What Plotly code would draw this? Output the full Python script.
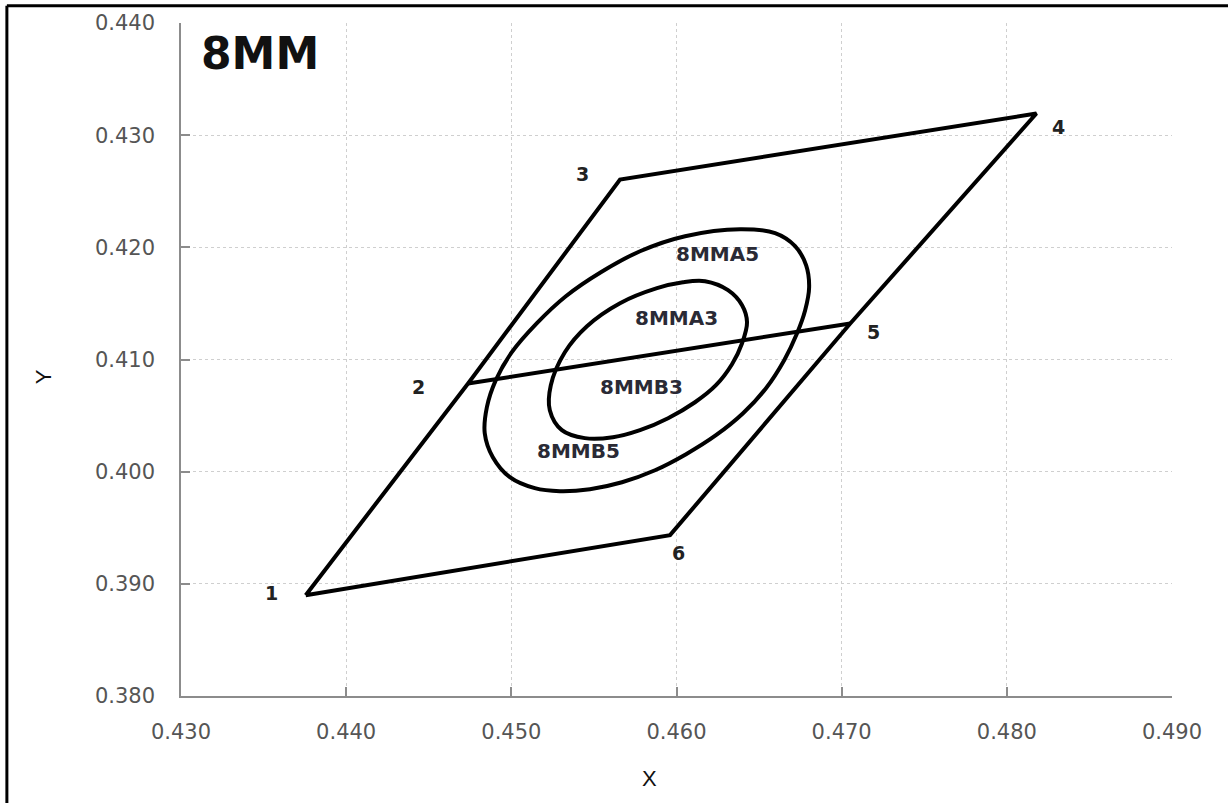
import plotly.graph_objects as go

# Corner points of the hexagonal outline (labelled 1..6)
pt_labels = ["1", "2", "3", "4", "5", "6"]
pt_x = [0.43755, 0.44738, 0.45658, 0.48179, 0.47052, 0.45961]
pt_y = [0.38899, 0.40786, 0.42604, 0.43193, 0.41321, 0.39434]

# Outer contour (8MMA5 / 8MMB5)
outer_x = [0.46385, 0.46597, 0.46718, 0.46785, 0.46803, 0.46779, 0.46730, 0.46652,
           0.46542, 0.46403, 0.46239, 0.46058, 0.45870, 0.45670, 0.45476, 0.45294,
           0.45142, 0.44991, 0.44888, 0.44839, 0.44852, 0.44906, 0.45003, 0.45155,
           0.45330, 0.45542, 0.45779, 0.46052, 0.46385]
outer_y = [0.42161, 0.42126, 0.42010, 0.41840, 0.41644, 0.41439, 0.41234, 0.40994,
           0.40744, 0.40521, 0.40325, 0.40156, 0.40013, 0.39906, 0.39844, 0.39826,
           0.39853, 0.39951, 0.40129, 0.40343, 0.40575, 0.40816, 0.41065, 0.41324,
           0.41564, 0.41778, 0.41965, 0.42099, 0.42161]

# Inner contour (8MMA3 / 8MMB3)
inner_x = [0.46173, 0.46312, 0.46397, 0.46427, 0.46397, 0.46336, 0.46239, 0.46112,
           0.45949, 0.45779, 0.45615, 0.45445, 0.45306, 0.45233, 0.45239, 0.45324,
           0.45458, 0.45658, 0.45882, 0.46039, 0.46173]
inner_y = [0.41698, 0.41618, 0.41484, 0.41332, 0.41145, 0.40958, 0.40771, 0.40619,
           0.40477, 0.40370, 0.40307, 0.40299, 0.40370, 0.40548, 0.40771, 0.41065,
           0.41297, 0.41502, 0.41636, 0.41689, 0.41698]

# Region labels
region_labels = ["8MMA5", "8MMA3", "8MMB3", "8MMB5"]
region_x = [0.46249, 0.46000, 0.45788, 0.45409]
region_y = [0.41939, 0.41373, 0.40758, 0.40187]

x_ticks = [0.430, 0.440, 0.450, 0.460, 0.470, 0.480, 0.490]
y_ticks = [0.380, 0.390, 0.400, 0.410, 0.420, 0.430, 0.440]

LW = 4
fig = go.Figure()

# Outline 1-2-3-4-5-6-1
order = [0, 1, 2, 3, 4, 5, 0]
fig.add_trace(go.Scatter(x=[pt_x[i] for i in order], y=[pt_y[i] for i in order],
                         mode="lines", line=dict(color="black", width=LW),
                         hoverinfo="skip", showlegend=False))
# Middle line 2-5
fig.add_trace(go.Scatter(x=[pt_x[1], pt_x[4]], y=[pt_y[1], pt_y[4]],
                         mode="lines", line=dict(color="black", width=LW),
                         hoverinfo="skip", showlegend=False))
# Contours
for xs, ys in [(outer_x, outer_y), (inner_x, inner_y)]:
    fig.add_trace(go.Scatter(x=xs, y=ys, mode="lines",
                             line=dict(color="black", width=LW, shape="spline", smoothing=1.0),
                             hoverinfo="skip", showlegend=False))

annots = []
# point number labels, offsets in pixels
offsets = [(-34, -2), (-50, 3), (-38, -6), (22, 13), (23, 9), (8, 18)]
for lab, x, y, (dx, dy) in zip(pt_labels, pt_x, pt_y, offsets):
    annots.append(dict(x=x, y=y, xref="x", yref="y", text=lab, showarrow=False,
                       xshift=dx, yshift=-dy,
                       font=dict(family="DejaVu Sans", size=19, color="#222222", weight="bold")))
for lab, x, y in zip(region_labels, region_x, region_y):
    annots.append(dict(x=x, y=y, xref="x", yref="y", text=lab, showarrow=False,
                       font=dict(family="DejaVu Sans", size=20, color="#2a2a35", weight="bold")))

# title inside plot
annots.append(dict(x=0.0185, y=0.955, xref="paper", yref="paper", text="<b>8MM</b>",
                   showarrow=False, xanchor="left", yanchor="middle",
                   font=dict(family="DejaVu Sans", size=44, color="#111111")))
# axis titles
annots.append(dict(x=0.47314, y=-0.1223, xref="paper", yref="paper", text="X",
                   showarrow=False, xanchor="center", yanchor="middle",
                   font=dict(family="Liberation Sans", size=22, color="#111111")))
annots.append(dict(x=-0.1379, y=0.474, xref="paper", yref="paper", text="Y",
                   showarrow=False, xanchor="center", yanchor="middle", textangle=-90,
                   font=dict(family="Liberation Sans", size=22, color="#111111")))

# frame lines (top and left edges of the picture)
shapes = [
    dict(type="line", xref="paper", yref="paper", x0=-0.1757, x1=1.06, y0=1.0256, y1=1.0256,
         line=dict(color="black", width=3)),
    dict(type="line", xref="paper", yref="paper", x0=-0.1757, x1=-0.1757, y0=1.0256, y1=-0.17,
         line=dict(color="black", width=3)),
]

axis_common = dict(
    showgrid=True, gridcolor="#cfcfcf", griddash="dot", gridwidth=1,
    showline=True, linecolor="#8c8c8c", linewidth=1.5,
    ticks="inside", ticklen=9, tickcolor="#8c8c8c", tickwidth=1.5,
    tickfont=dict(family="DejaVu Sans", size=21, color="#555555"),
    zeroline=False, mirror=False,
)

fig.update_layout(
    width=1228, height=803,
    margin=dict(l=181, r=56, t=23, b=107),
    paper_bgcolor="white", plot_bgcolor="white",
    xaxis=dict(range=[0.430, 0.490], tickvals=x_ticks,
               ticktext=[f"{v:.3f}" for v in x_ticks], ticklabelstandoff=16, **axis_common),
    yaxis=dict(range=[0.380, 0.440], tickvals=y_ticks,
               ticktext=[f"{v:.3f}" for v in y_ticks], ticklabelstandoff=20, **axis_common),
    annotations=annots, shapes=shapes, showlegend=False,
)

fig.write_html("out.html", config={"displayModeBar": False},
               post_script="document.body.style.margin='0px';document.body.style.overflow='hidden';")
